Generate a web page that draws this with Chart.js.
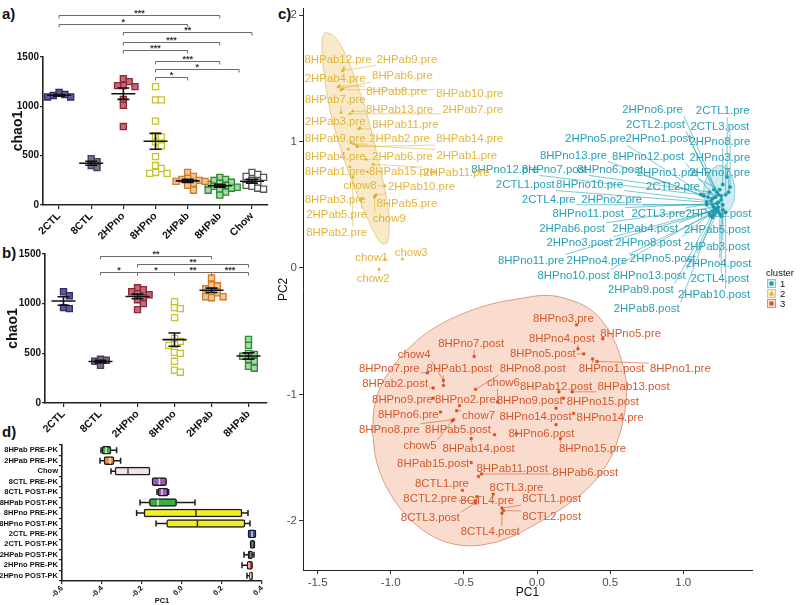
<!DOCTYPE html>
<html>
<head>
<meta charset="utf-8">
<script src="https://cdn.jsdelivr.net/npm/chart.js@4.4.1/dist/chart.umd.min.js"></script>
<style>
  body { margin: 0; background: #fff; width: 800px; height: 605px; overflow: hidden; position: relative; font-family: "Liberation Sans", Arial, sans-serif; }
  canvas { position: absolute; }
  .tag { position: absolute; font-weight: bold; font-size: 15px; color: #111; }
</style>
</head>
<body>
<div class="tag" style="left:2px;top:5px">a)</div>
<div class="tag" style="left:2px;top:244px">b)</div>
<div class="tag" style="left:278px;top:5px">c)</div>
<div class="tag" style="left:2px;top:423px">d)</div>
<canvas id="chartA" width="290" height="262" style="left:0;top:0"></canvas>
<canvas id="chartB" width="290" height="258" style="left:0;top:200px"></canvas>
<canvas id="chartD" width="290" height="175" style="left:0;top:430px"></canvas>
<canvas id="chartC" width="530" height="605" style="left:270px;top:0"></canvas>
<script>
// ---- panel a: chao1 per group ----
const catsA = ['2CTL', '8CTL', '2HPno', '8HPno', '2HPab', '8HPab', 'Chow'];
const a2CTL = [1120, 1095, 1095, 1110, 1140];
const a8CTL = [470, 440, 380, 400];
const a2HPno = [1250, 1280, 1210, 1210, 1200, 1070, 1010, 795];
const a8HPno = [1200, 1065, 1065, 850, 700, 690, 640, 600, 490, 400, 370, 330, 320, 320];
const a2HPab = [330, 290, 270, 260, 250, 240, 240, 220, 200, 150];
const a8HPab = [280, 260, 250, 230, 220, 210, 200, 190, 180, 170, 160, 150, 130, 100];
const aChow = [330, 310, 290, 280, 250, 230, 200, 190, 170, 160];
// significance brackets (category index from/to, height in chao1 units, label)
const sigAFrom = [0, 0, 2, 2, 2, 3, 3, 3];
const sigATo = [5, 4, 6, 5, 4, 5, 5.6, 4];
const sigALevel = [1926, 1834, 1753, 1652, 1571, 1459, 1378, 1297];
const sigALabel = ['***', '*', '**', '***', '***', '***', '*', '*'];

// ---- panel b ----
const catsB = ['2CTL', '8CTL', '2HPno', '8HPno', '2HPab', '8HPab'];
const b2CTL = [1120, 1080, 950, 960];
const b8CTL = [440, 430, 420, 380];
const b2HPno = [1160, 1140, 1120, 1100, 1090, 1060, 1040, 1000, 940];
const b8HPno = [1020, 960, 950, 860, 650, 620, 590, 580, 510, 500, 420, 330, 310];
const b2HPab = [1260, 1190, 1180, 1150, 1120, 1110, 1070, 1070, 1060];
const b8HPab = [640, 580, 500, 490, 470, 440, 420, 370, 350];
const sigBFrom = [1, 2, 1, 2, 3, 4];
const sigBTo = [4, 5, 2, 3, 4, 5];
const sigBLevel = [1480, 1399, 1319, 1319, 1319, 1319];
const sigBLabel = ['**', '**', '*', '*', '**', '***'];

// ---- panel d: PC1 box plots ----
const dRows = ['8HPab PRE-PK', '2HPab PRE-PK', 'Chow', '8CTL PRE-PK', '8CTL POST-PK', '8HPab POST-PK',
  '8HPno PRE-PK', '8HPno POST-PK', '2CTL PRE-PK', '2CTL POST-PK', '2HPab POST-PK', '2HPno PRE-PK', '2HPno POST-PK'];
const dMin = [-0.405, -0.41, -0.355, -0.15, -0.125, -0.21, -0.227, -0.13, 0.33, 0.34, 0.31, 0.30, 0.325];
const dQ1 = [-0.40, -0.39, -0.335, -0.15, -0.12, -0.163, -0.19, -0.077, 0.33, 0.34, 0.33, 0.325, 0.337];
const dMed = [-0.38, -0.36, -0.27, -0.113, -0.10, -0.12, 0.07, 0.077, 0.35, 0.352, 0.343, 0.335, 0.343];
const dQ3 = [-0.355, -0.34, -0.16, -0.077, -0.07, -0.027, 0.30, 0.315, 0.37, 0.365, 0.353, 0.353, 0.353];
const dMax = [-0.327, -0.307, -0.16, -0.077, -0.067, 0.065, 0.33, 0.34, 0.37, 0.365, 0.36, 0.353, 0.353];

// ---- panel c: PCA, three clusters ----
const c1Names = ['2HPno6.pre','2CTL1.pre','2CTL2.post','2CTL3.post','2HPno5.pre','2HPno1.post','2HPno8.pre','8HPno13.pre','8HPno12.post','2HPno3.pre','8HPno12.pre','8HPno7.post','8HPno6.post','2HPno1.pre','2HPno7.pre','2CTL1.post','8HPno10.pre','2CTL2.pre','2CTL4.pre','2HPno2.pre','8HPno11.post','2CTL3.pre','2HPno2.post','2HPab6.post','2HPab4.post','2HPab5.post','2HPno3.post','2HPno8.post','2HPab3.post','8HPno11.pre','2HPno4.pre','2HPno5.post','2HPno4.post','8HPno10.post','8HPno13.post','2CTL4.post','2HPab9.post','2HPab10.post','2HPab8.post'];
const c1X = [1.23,1.30,1.21,1.32,1.17,1.24,1.27,1.14,1.22,1.29,1.12,1.18,1.20,1.25,1.31,1.16,1.19,1.26,1.16,1.20,1.23,1.24,1.26,1.21,1.23,1.27,1.22,1.24,1.27,1.20,1.22,1.24,1.25,1.18,1.21,1.26,1.19,1.29,1.20];
const c1Y = [0.60,0.72,0.62,0.64,0.56,0.58,0.66,0.57,0.56,0.58,0.58,0.60,0.55,0.62,0.60,0.52,0.53,0.57,0.50,0.50,0.51,0.52,0.54,0.48,0.47,0.50,0.46,0.48,0.46,0.45,0.44,0.45,0.43,0.43,0.42,0.41,0.41,0.44,0.40];
const c1LabelX = [0.79,1.27,0.81,1.25,0.40,0.83,1.25,0.25,0.76,1.25,-0.22,0.12,0.50,0.89,1.25,-0.08,0.36,0.93,0.08,0.51,0.35,0.83,1.24,0.24,0.74,1.23,0.29,0.76,1.23,-0.04,0.41,0.86,1.24,0.25,0.77,1.25,0.71,1.21,0.75];
const c1LabelY = [1.25,1.24,1.13,1.12,1.02,1.02,1.00,0.89,0.88,0.87,0.78,0.78,0.78,0.75,0.75,0.66,0.66,0.64,0.54,0.54,0.43,0.43,0.43,0.31,0.31,0.30,0.20,0.20,0.17,0.06,0.06,0.07,0.03,-0.06,-0.06,-0.09,-0.17,-0.21,-0.32];

const c2Names = ['8HPab12.pre','2HPab9.pre','2HPab4.pre','8HPab6.pre','8HPab8.pre','8HPab10.pre','8HPab7.pre','8HPab13.pre','2HPab7.pre','2HPab3.pre','8HPab11.pre','8HPab9.pre','2HPab2.pre','8HPab14.pre','8HPab4.pre','2HPab6.pre','2HPab1.pre','8HPab1.pre','8HPab15.pre','2HPab11.pre','chow8','2HPab10.pre','8HPab3.pre','8HPab5.pre','2HPab5.pre','chow9','8HPab2.pre','chow1','chow3','chow2'];
const c2X = [-1.32,-1.33,-1.36,-1.33,-1.35,-1.34,-1.34,-1.26,-1.28,-1.21,-1.22,-1.27,-1.25,-1.23,-1.29,-1.17,-1.23,-1.28,-1.16,-1.12,-1.04,-1.11,-1.21,-1.10,-1.20,-1.11,-1.26,-1.04,-0.92,-1.08];
const c2Y = [1.58,1.56,1.43,1.42,1.44,1.41,1.23,1.24,1.22,1.11,1.10,0.99,0.98,0.96,0.94,0.86,0.97,0.80,0.76,0.82,0.65,0.57,0.54,0.58,0.55,0.56,0.72,0.07,0.07,-0.01];
const c2LabelX = [-1.36,-0.89,-1.38,-0.92,-0.96,-0.46,-1.38,-0.94,-0.44,-1.38,-0.90,-1.38,-0.94,-0.46,-1.38,-0.92,-0.48,-1.38,-0.92,-0.55,-1.21,-0.79,-1.38,-0.89,-1.37,-1.01,-1.37,-1.13,-0.86,-1.12];
const c2LabelY = [1.65,1.65,1.50,1.52,1.39,1.38,1.33,1.25,1.25,1.16,1.13,1.02,1.02,1.02,0.88,0.88,0.89,0.76,0.76,0.75,0.65,0.64,0.54,0.51,0.42,0.39,0.28,0.08,0.12,-0.09];

const c3Names = ['8HPno3.pre','8HPno4.post','8HPno5.pre','8HPno5.post','8HPno8.post','8HPno1.post','8HPno1.pre','8HPab12.post','8HPab13.post','8HPno9.post','8HPno15.post','8HPno14.post','8HPno14.pre','8HPno6.post','8HPno15.pre','8HPab11.post','8HPab6.post','8CTL3.pre','8CTL1.post','8CTL2.post','8CTL4.post','8CTL4.pre','8CTL2.pre','8CTL1.pre','8CTL3.post','8HPab15.post','chow5','8HPab14.post','8HPab5.post','8HPno8.pre','8HPno6.pre','chow7','8HPno9.pre','8HPno2.pre','8HPab2.post','chow6','8HPno7.pre','8HPab1.post','chow4','8HPno7.post'];
const c3X = [0.27,0.28,0.45,0.32,-0.42,0.38,0.41,0.15,0.24,0.13,0.18,0.13,0.25,-0.14,0.16,-0.40,-0.38,-0.30,-0.24,-0.23,-0.24,-0.41,-0.42,-0.51,-0.42,-0.45,-0.58,-0.45,-0.29,-0.57,-0.66,-0.55,-0.71,-0.53,-0.71,-0.27,-0.75,-0.64,-0.64,-0.43];
const c3Y = [-0.45,-0.64,-0.56,-0.68,-0.96,-0.72,-0.74,-0.98,-0.98,-1.11,-1.03,-1.24,-1.15,-1.31,-1.35,-1.65,-1.63,-1.79,-1.90,-1.92,-1.94,-1.81,-1.84,-1.76,-1.86,-1.54,-1.21,-1.35,-1.32,-1.20,-1.14,-1.13,-1.03,-1.09,-0.95,-1.06,-0.83,-0.93,-0.89,-0.70];
const c3LabelX = [0.18,0.17,0.64,0.04,-0.03,0.51,0.98,0.13,0.66,-0.05,0.45,-0.01,0.50,0.03,0.38,-0.17,0.33,-0.14,0.10,0.10,-0.32,-0.34,-0.73,-0.65,-0.73,-0.71,-0.80,-0.40,-0.54,-1.01,-0.88,-0.40,-0.92,-0.49,-0.97,-0.23,-1.01,-0.53,-0.84,-0.45];
const c3LabelY = [-0.40,-0.56,-0.52,-0.68,-0.80,-0.80,-0.80,-0.94,-0.94,-1.05,-1.06,-1.18,-1.19,-1.31,-1.43,-1.59,-1.62,-1.74,-1.83,-1.97,-2.09,-1.84,-1.83,-1.71,-1.98,-1.55,-1.41,-1.43,-1.28,-1.28,-1.16,-1.17,-1.04,-1.04,-0.92,-0.91,-0.80,-0.80,-0.69,-0.60];

// cluster outlines
const hull1X = [1.24, 1.32, 1.36, 1.34, 1.27, 1.17, 1.13, 1.16];
const hull1Y = [0.83, 0.77, 0.64, 0.48, 0.41, 0.46, 0.60, 0.74];
const hull2X = [-1.45, -1.37, -1.28, -1.16, -1.08, -1.01, -1.01, -1.03, -1.08, -1.16, -1.30, -1.42, -1.47, -1.47];
const hull2Y = [1.87, 1.83, 1.62, 1.23, 0.83, 0.46, 0.26, 0.18, 0.20, 0.39, 0.78, 1.23, 1.65, 1.83];
const hull3X = [0.04, 0.18, 0.38, 0.52, 0.60, 0.62, 0.58, 0.48, 0.29, -0.05, -0.27, -0.51, -0.73, -0.94, -1.09, -1.13, -1.11, -1.01, -0.82, -0.60, -0.32, -0.10];
const hull3Y = [-0.21, -0.23, -0.32, -0.53, -0.80, -1.00, -1.29, -1.58, -1.82, -2.06, -2.18, -2.21, -2.13, -1.92, -1.61, -1.31, -1.03, -0.80, -0.56, -0.40, -0.28, -0.24];
const clusterKeys = ['1', '2', '3'];

const FONT = '"Liberation Sans", Arial, sans-serif';
Chart.defaults.font.family = FONT;
Chart.defaults.color = '#111';

const edgeCols = ['#2d2d66', '#4a3c5c', '#8a2a38', '#c4c42c', '#d07a2c', '#2c8a38', '#555555'];
const fillCols = ['#5b5b9a', '#7c6c8c', '#c46a72', '#ffffff', '#f4c594', '#a8d8a2', '#ffffff'];

// simple beeswarm so squares do not pile up
function swarm(vals, ci, pxPerUnit, pxPerCat) {
  const order = vals.map((v, i) => i).sort((p, q) => vals[q] - vals[p]);
  const placed = [];
  const out = [];
  const m = 5.6;
  for (const k of order) {
    const yy = vals[k] * pxPerUnit;
    let dx = 0;
    for (let s = 0; s < 30; s++) {
      const cand = s === 0 ? 0 : (s % 2 ? 1 : -1) * Math.ceil(s / 2) * 2.9;
      if (placed.every(p => Math.abs(p.dx - cand) >= m || Math.abs(p.y - yy) >= m)) { dx = cand; break; }
    }
    placed.push({ dx: dx, y: yy });
    out.push({ x: ci + dx / pxPerCat, y: vals[k] });
  }
  return out;
}

function statsPlugin(groups, sFrom, sTo, sLevel, sLabel) {
  return {
    id: 'stats',
    afterDatasetsDraw(chart) {
      const { ctx, scales: { x, y } } = chart;
      ctx.save();
      ctx.strokeStyle = '#111';
      ctx.lineWidth = 1.6;
      groups.forEach((vals, i) => {
        const n = vals.length;
        const m = vals.reduce((a, b) => a + b, 0) / n;
        const sd = Math.sqrt(vals.reduce((a, b) => a + (b - m) * (b - m), 0) / (n - 1));
        const se = sd / Math.sqrt(n);
        const cx = x.getPixelForValue(i);
        const ym = y.getPixelForValue(m), y1 = y.getPixelForValue(m + se), y0 = y.getPixelForValue(m - se);
        ctx.beginPath();
        ctx.moveTo(cx - 12, ym); ctx.lineTo(cx + 12, ym);
        ctx.moveTo(cx, y1); ctx.lineTo(cx, y0);
        ctx.moveTo(cx - 6, y1); ctx.lineTo(cx + 6, y1);
        ctx.moveTo(cx - 6, y0); ctx.lineTo(cx + 6, y0);
        ctx.stroke();
      });
      ctx.restore();
    },
    afterDraw(chart) {
      const { ctx, scales: { x, y } } = chart;
      ctx.save();
      ctx.strokeStyle = '#6a6a6a';
      ctx.lineWidth = 1;
      ctx.fillStyle = '#333';
      ctx.font = 'bold 9px ' + FONT;
      ctx.textAlign = 'center';
      ctx.textBaseline = 'bottom';
      sFrom.forEach((f, i) => {
        const x0 = x.getPixelForValue(f), x1 = x.getPixelForValue(sTo[i]);
        const yy = Math.round(y.getPixelForValue(sLevel[i])) + 0.5;
        ctx.beginPath();
        ctx.moveTo(x0, yy + 3); ctx.lineTo(x0, yy); ctx.lineTo(x1, yy); ctx.lineTo(x1, yy + 3);
        ctx.stroke();
        ctx.fillText(sLabel[i], (x0 + x1) / 2, yy + 3);
      });
      ctx.restore();
    }
  };
}

function dotChart(id, cats, groups, pxPerCat, pad, yW, xH, titlePad, sig) {
  const pxPerUnit = 148 / 1500;
  const datasets = groups.map((vals, ci) => ({
    data: swarm(vals, ci, pxPerUnit, pxPerCat),
    pointStyle: 'rect',
    pointRadius: 4.3,
    pointHoverRadius: 4.3,
    backgroundColor: fillCols[ci],
    borderColor: edgeCols[ci],
    borderWidth: 1.3
  }));
  return new Chart(document.getElementById(id), {
    type: 'scatter',
    data: { datasets: datasets },
    options: {
      responsive: false, animation: false, events: [],
      layout: { padding: pad },
      plugins: { legend: { display: false }, tooltip: { enabled: false } },
      scales: {
        x: {
          type: 'linear', min: -0.5, max: cats.length - 0.5,
          afterBuildTicks: s => { s.ticks = cats.map((c, i) => ({ value: i })); },
          afterFit: s => { s.height = xH; },
          ticks: { autoSkip: false, minRotation: 45, maxRotation: 45, padding: 1, color: '#111',
                   font: { size: 10.5, weight: 'bold' }, callback: v => cats[v] },
          grid: { drawOnChartArea: false, drawTicks: true, tickLength: 4, color: '#222', lineWidth: 1.2 },
          border: { color: '#222', width: 1.6 }
        },
        y: {
          min: 0, max: 1500,
          afterFit: s => { s.width = yW; },
          ticks: { stepSize: 500, padding: 1, color: '#111', font: { size: 10, weight: 'bold' }, callback: v => String(v) },
          grid: { drawOnChartArea: false, drawTicks: true, tickLength: 3, color: '#222', lineWidth: 1.2 },
          border: { color: '#222', width: 1.6 },
          title: { display: true, text: 'chao1', color: '#111', font: { size: 14, weight: 'bold' }, padding: { top: titlePad, bottom: 0 } }
        }
      }
    },
    plugins: [statsPlugin(groups, sig[0], sig[1], sig[2], sig[3])]
  });
}

dotChart('chartA', catsA, [a2CTL, a8CTL, a2HPno, a8HPno, a2HPab, a8HPab, aChow], 32.1,
  { top: 57, right: 22, left: 0, bottom: 0 }, 43, 57, 10, [sigAFrom, sigATo, sigALevel, sigALabel]);
dotChart('chartB', catsB, [b2CTL, b8CTL, b2HPno, b8HPno, b2HPab, b8HPab], 37,
  { top: 54, right: 23, left: 0, bottom: 0 }, 45, 55, 5, [sigBFrom, sigBTo, sigBLevel, sigBLabel]);

// ---- panel d ----
const dFill = ['#3cae48', '#e8954a', '#f5e2e2', '#9a5bb2', '#9a5bb2', '#3cae48', '#f2ef22', '#f2ef22', '#3b4a9b', '#26263a', '#2a2a2a', '#e0413d', '#b2443a'];
const dMedCol = ['#d8eed8', '#fae0c8', '#555', '#e6d4ee', '#e6d4ee', '#d8eed8', '#333', '#333', '#cfd4f0', '#888', '#888', '#f8c8c8', '#f0c8c0'];
const whiskerPlugin = {
  id: 'whisk',
  afterDatasetsDraw(chart) {
    const { ctx, scales: { x, y } } = chart;
    ctx.save();
    ctx.lineWidth = 1.5;
    dRows.forEach((r, i) => {
      const cy = y.getPixelForValue(i);
      const xa = x.getPixelForValue(dMin[i]), x1 = x.getPixelForValue(dQ1[i]);
      const x3 = x.getPixelForValue(dQ3[i]), xb = x.getPixelForValue(dMax[i]);
      const xm = x.getPixelForValue(dMed[i]);
      ctx.strokeStyle = '#1a1a1a';
      ctx.beginPath();
      if (x1 - xa > 0.5) { ctx.moveTo(xa, cy); ctx.lineTo(x1, cy); ctx.moveTo(xa, cy - 3); ctx.lineTo(xa, cy + 3); }
      if (xb - x3 > 0.5) { ctx.moveTo(x3, cy); ctx.lineTo(xb, cy); ctx.moveTo(xb, cy - 3); ctx.lineTo(xb, cy + 3); }
      ctx.stroke();
      ctx.strokeStyle = dMedCol[i];
      ctx.beginPath();
      ctx.moveTo(xm, cy - 3); ctx.lineTo(xm, cy + 3);
      ctx.stroke();
    });
    ctx.restore();
  }
};
new Chart(document.getElementById('chartD'), {
  type: 'bar',
  data: {
    labels: dRows,
    datasets: [{
      data: dQ1.map((q, i) => [q, dQ3[i]]),
      backgroundColor: dFill,
      borderColor: '#1a1a1a',
      borderWidth: 1.5,
      borderSkipped: false,
      borderRadius: 2,
      barThickness: 8
    }]
  },
  options: {
    indexAxis: 'y',
    responsive: false, animation: false, events: [],
    layout: { padding: { top: 15, right: 28, left: 0, bottom: 0 } },
    plugins: { legend: { display: false }, tooltip: { enabled: false } },
    scales: {
      x: {
        type: 'linear', min: -0.6, max: 0.4,
        afterBuildTicks: s => { s.ticks = [-0.6, -0.4, -0.2, 0, 0.2, 0.4].map(v => ({ value: v })); },
        afterFit: s => { s.height = 24; },
        ticks: { autoSkip: false, minRotation: 45, maxRotation: 45, padding: 0, color: '#111',
                 font: { size: 7.5, weight: 'bold' }, callback: v => (Math.abs(v) < 1e-9 ? 0 : v).toFixed(1) },
        grid: { drawOnChartArea: false, tickLength: 3, color: '#222', lineWidth: 1.2 },
        border: { color: '#222', width: 1.6 },
        title: { display: true, text: 'PC1', color: '#111', font: { size: 7.5, weight: 'bold' }, padding: { top: 0, bottom: 0 } }
      },
      y: {
        afterFit: s => { s.width = 62; },
        ticks: { autoSkip: false, padding: 1, color: '#111', font: { size: 7.5, weight: 'bold' } },
        grid: { drawOnChartArea: false, tickLength: 3, color: '#222', lineWidth: 1.2 },
        border: { color: '#222', width: 1.6 }
      }
    }
  },
  plugins: [whiskerPlugin]
});

// ---- panel c ----
const clusterText = ['#26a0b6', '#e1b43a', '#d4582c'];
const clusterPoint = ['#1c98ae', '#dcae32', '#cf4f22'];
const clusterFill = ['rgba(120,200,215,0.35)', 'rgba(236,200,110,0.38)', 'rgba(240,150,110,0.33)'];
const clusterLine = ['#7cc4d2', '#e0c27a', '#cf8a6c'];
const clusterSets = [
  { names: c1Names, x: c1X, y: c1Y, lx: c1LabelX, ly: c1LabelY, hx: hull1X, hy: hull1Y },
  { names: c2Names, x: c2X, y: c2Y, lx: c2LabelX, ly: c2LabelY, hx: hull2X, hy: hull2Y },
  { names: c3Names, x: c3X, y: c3Y, lx: c3LabelX, ly: c3LabelY, hx: hull3X, hy: hull3Y }
];
const LBL_FONT = '11.4px ' + FONT;

function smoothClosed(ctx, pts) {
  const n = pts.length;
  const mid = (a, b) => [(a[0] + b[0]) / 2, (a[1] + b[1]) / 2];
  const m0 = mid(pts[n - 1], pts[0]);
  ctx.moveTo(m0[0], m0[1]);
  for (let i = 0; i < n; i++) {
    const p = pts[i], m = mid(p, pts[(i + 1) % n]);
    ctx.quadraticCurveTo(p[0], p[1], m[0], m[1]);
  }
  ctx.closePath();
}

const pcaPlugin = {
  id: 'pcaDecor',
  beforeDatasetsDraw(chart) {
    const { ctx, scales: { x, y } } = chart;
    ctx.save();
    clusterSets.forEach((c, k) => {
      const pts = c.hx.map((v, i) => [x.getPixelForValue(v), y.getPixelForValue(c.hy[i])]);
      ctx.beginPath();
      smoothClosed(ctx, pts);
      ctx.fillStyle = clusterFill[k];
      ctx.fill();
      ctx.strokeStyle = clusterLine[k];
      ctx.lineWidth = 0.8;
      ctx.stroke();
    });
    // connector segments from point to label box
    ctx.font = LBL_FONT;
    clusterSets.forEach((c, k) => {
      ctx.strokeStyle = clusterText[k];
      ctx.lineWidth = 0.6;
      c.names.forEach((n, i) => {
        const x0 = x.getPixelForValue(c.x[i]), y0 = y.getPixelForValue(c.y[i]);
        const cx = x.getPixelForValue(c.lx[i]), cy = y.getPixelForValue(c.ly[i]);
        const w = ctx.measureText(n).width / 2 + 1, h = 6;
        const ex = Math.max(cx - w, Math.min(x0, cx + w));
        const ey = Math.max(cy - h, Math.min(y0, cy + h));
        if (Math.hypot(ex - x0, ey - y0) > 3) {
          ctx.beginPath(); ctx.moveTo(x0, y0); ctx.lineTo(ex, ey); ctx.stroke();
        }
      });
    });
    ctx.restore();
  },
  afterDatasetsDraw(chart) {
    const { ctx, scales: { x, y } } = chart;
    ctx.save();
    ctx.font = LBL_FONT;
    ctx.textAlign = 'center';
    ctx.textBaseline = 'middle';
    clusterSets.forEach((c, k) => {
      ctx.fillStyle = clusterText[k];
      c.names.forEach((n, i) => {
        ctx.fillText(n, x.getPixelForValue(c.lx[i]), y.getPixelForValue(c.ly[i]));
      });
    });
    ctx.restore();
  },
  afterDraw(chart) {
    const { ctx, chartArea } = chart;
    const x0 = chartArea.right + 15;
    ctx.save();
    ctx.font = '9.5px ' + FONT;
    ctx.textBaseline = 'middle';
    ctx.textAlign = 'left';
    ctx.fillStyle = '#111';
    ctx.fillText('cluster', x0 - 1, 273);
    clusterKeys.forEach((key, i) => {
      const cy = 283.5 + i * 10;
      ctx.fillStyle = '#fff';
      ctx.fillRect(x0, cy - 4.5, 9, 9);
      ctx.fillStyle = clusterFill[i];
      ctx.fillRect(x0, cy - 4.5, 9, 9);
      ctx.strokeStyle = clusterLine[i];
      ctx.lineWidth = 0.9;
      ctx.strokeRect(x0 + 0.5, cy - 4, 8, 8);
      ctx.fillStyle = clusterPoint[i];
      ctx.beginPath();
      if (i === 0) ctx.arc(x0 + 4.5, cy, 2.2, 0, Math.PI * 2);
      else if (i === 1) { ctx.moveTo(x0 + 4.5, cy - 2.6); ctx.lineTo(x0 + 7, cy + 2); ctx.lineTo(x0 + 2, cy + 2); ctx.closePath(); }
      else ctx.rect(x0 + 2.5, cy - 2, 4, 4);
      ctx.fill();
      ctx.fillStyle = '#111';
      ctx.fillText(key, x0 + 13, cy + 0.5);
    });
    ctx.restore();
  }
};

const pointStyles = ['circle', 'triangle', 'rect'];
new Chart(document.getElementById('chartC'), {
  type: 'scatter',
  data: {
    datasets: clusterSets.map((c, k) => ({
      label: clusterKeys[k],
      data: c.x.map((v, i) => ({ x: v, y: c.y[i] })),
      pointStyle: pointStyles[k],
      pointRadius: 1.7,
      pointHoverRadius: 1.7,
      backgroundColor: clusterPoint[k],
      borderColor: clusterPoint[k],
      borderWidth: 0.5
    }))
  },
  options: {
    responsive: false, animation: false, events: [],
    layout: { padding: { top: 5, right: 48, left: 0, bottom: 0 } },
    plugins: { legend: { display: false }, tooltip: { enabled: false } },
    scales: {
      x: {
        type: 'linear', min: -1.6, max: 1.47,
        afterBuildTicks: s => { s.ticks = [-1.5, -1, -0.5, 0, 0.5, 1].map(v => ({ value: v })); },
        afterFit: s => { s.height = 35; },
        ticks: { autoSkip: false, maxRotation: 0, padding: 2, color: '#4d4d4d', font: { size: 11.5 },
                 callback: v => v.toFixed(1) },
        grid: { drawOnChartArea: false, tickLength: 4, color: '#333' },
        border: { color: '#222', width: 1 },
        title: { display: true, text: 'PC1', color: '#111', font: { size: 12 }, padding: { top: 0, bottom: 5 } }
      },
      y: {
        type: 'linear', min: -2.39, max: 2.05,
        afterBuildTicks: s => { s.ticks = [-2, -1, 0, 1, 2].map(v => ({ value: v })); },
        afterFit: s => { s.width = 33; },
        ticks: { autoSkip: false, padding: 2, color: '#4d4d4d', font: { size: 11.5 }, callback: v => String(v) },
        grid: { drawOnChartArea: false, tickLength: 4, color: '#333' },
        border: { color: '#222', width: 1 },
        title: { display: true, text: 'PC2', color: '#111', font: { size: 12 }, padding: { top: 6, bottom: 0 } }
      }
    }
  },
  plugins: [pcaPlugin]
});
</script>
</body>
</html>
